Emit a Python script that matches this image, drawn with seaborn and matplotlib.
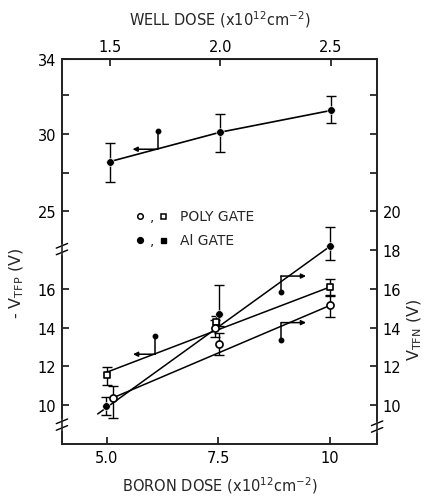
import matplotlib
matplotlib.use("Agg")
import matplotlib.pyplot as plt
import matplotlib.transforms as mtransforms
import pandas as pd
import seaborn as sns

# Al gate, -V_TFP against well dose (top axis, upper part of left axis)
well_dose = [1.5, 2.0, 2.5]
well_vtfp = [28.2, 30.1, 31.5]
well_err_lo = [1.3, 1.3, 0.8]
well_err_hi = [1.2, 1.2, 0.9]

# boron dose series (bottom axis, lower part)
al_dose = [4.98, 7.52, 10.0]
al_v = [9.95, 14.7, 18.2]
al_err_lo = [0.45, 0.6, 0.7]
al_err_hi = [0.45, 1.5, 1.0]

poly_sq_dose = [5.0, 7.45, 10.0]
poly_sq_v = [11.55, 14.3, 16.1]
poly_sq_err_lo = [0.5, 0.3, 0.4]
poly_sq_err_hi = [0.4, 0.3, 0.4]

poly_circ_dose = [5.14, 7.42, 7.52, 10.0]
poly_circ_v = [10.35, 14.0, 13.15, 15.15]
poly_circ_err_lo = [1.0, 0.5, 0.55, 0.6]
poly_circ_err_hi = [0.65, 0.4, 0.6, 0.5]

# straight fit lines through the boron series (start / end)
fit_x0 = [4.8, 5.0, 5.16]
fit_y0 = [9.55, 11.7, 10.4]
fit_x1 = [10.0, 10.0, 10.0]
fit_y1 = [18.2, 16.1, 15.15]

# axis pointer symbols: corner, arrow length (dose units), stem (volts)
ptr_dose = [6.14, 6.09, 8.9, 8.9]
ptr_v = [29.0, 12.63, 16.66, 14.26]
ptr_upper = [True, False, False, False]
ptr_arrow = [-0.56, -0.5, 0.56, 0.56]
ptr_stem = [1.2, 0.93, -0.82, -0.91]

left_lower_ticks = [10, 12, 14, 16]
left_upper_ticks = [25, 27.5, 30, 32.5]
left_upper_labels = ["25", "", "30", ""]
right_ticks = [10, 12, 14, 16, 18, 20, 22, 24, 26]
right_labels = ["10", "12", "14", "16", "18", "20", "", "", ""]
top_ticks = [1.5, 2.0, 2.5]
bottom_ticks = [5.0, 7.5, 10.0]
bottom_labels = ["5.0", "7.5", "10"]


def upper(v):
    return 20 + (v - 25) * 0.8


def well_to_boron(t):
    return (t - 1.5) * 4.95 + 5.07


def boron_to_well(b):
    return (b - 5.07) / 4.95 + 1.5


sns.set_style("ticks")
plt.rcParams["font.family"] = ["DejaVu Sans"]
plt.rcParams["mathtext.default"] = "regular"

fig = plt.figure(figsize=(4.3, 5.02), dpi=100)
ax = fig.add_axes([0.144, 0.1135, 0.733, 0.7665])
ax.set_xlim(4.0, 11.05)
ax.set_ylim(8.0, upper(34.8))

k = "black"
ekw = dict(fmt="none", ecolor=k, elinewidth=1.0, capsize=3.5, capthick=1.0)

# upper series
wx = [well_to_boron(t) for t in well_dose]
wy = [upper(v) for v in well_vtfp]
well_df = pd.DataFrame({"x": wx, "y": wy})
sns.lineplot(data=well_df, x="x", y="y", color=k, lw=1.2, ax=ax, sort=False)
ax.errorbar(wx, wy, yerr=[[e * 0.8 for e in well_err_lo], [e * 0.8 for e in well_err_hi]], **ekw)
sns.scatterplot(data=well_df, x="x", y="y", color=k, s=30, marker="o", ax=ax, zorder=5)

# fit lines
for x0, y0, x1, y1 in zip(fit_x0, fit_y0, fit_x1, fit_y1):
    sns.lineplot(x=[x0, x1], y=[y0, y1], color=k, lw=1.1, ax=ax)

ax.errorbar(al_dose, al_v, yerr=[al_err_lo, al_err_hi], **ekw)
ax.errorbar(poly_sq_dose, poly_sq_v, yerr=[poly_sq_err_lo, poly_sq_err_hi], **ekw)
ax.errorbar(poly_circ_dose, poly_circ_v, yerr=[poly_circ_err_lo, poly_circ_err_hi], **ekw)
sns.scatterplot(x=al_dose, y=al_v, color=k, s=30, marker="o", ax=ax, zorder=5)
sns.scatterplot(x=poly_sq_dose, y=poly_sq_v, facecolor="white", edgecolor=k,
                linewidth=1.2, s=22, marker="s", ax=ax, zorder=5)
sns.scatterplot(x=poly_circ_dose, y=poly_circ_v, facecolor="white", edgecolor=k,
                linewidth=1.2, s=26, marker="o", ax=ax, zorder=5)

# pointer symbols
for x, v, up, dx, dy in zip(ptr_dose, ptr_v, ptr_upper, ptr_arrow, ptr_stem):
    y = upper(v) if up else v
    y2 = upper(v + dy) if up else v + dy
    ax.annotate("", xy=(x + dx, y), xytext=(x, y),
                arrowprops=dict(arrowstyle="-|>", color=k, lw=1.1,
                                mutation_scale=7, shrinkA=0, shrinkB=0))
    ax.plot([x, x], [y, y2], color=k, lw=1.1)
    ax.plot([x], [y2], "o", color=k, ms=3.2)

# legend drawn as text with symbols
lt = ax.transAxes
ax.plot([0.248], [0.592], "o", mfc="white", mec=k, ms=4, mew=1.1, transform=lt)
ax.text(0.287, 0.592, ",", transform=lt, fontsize=10, va="center", ha="center")
ax.plot([0.321], [0.592], "s", mfc="white", mec=k, ms=3.6, mew=1.1, transform=lt)
ax.text(0.375, 0.592, "POLY GATE", transform=lt, fontsize=10, va="center")
ax.plot([0.248], [0.53], "o", color=k, ms=4.2, transform=lt)
ax.text(0.287, 0.53, ",", transform=lt, fontsize=10, va="center", ha="center")
ax.plot([0.321], [0.53], "s", color=k, ms=3.6, transform=lt)
ax.text(0.375, 0.53, "Al GATE", transform=lt, fontsize=10, va="center")

# ticks
for sp in ax.spines.values():
    sp.set_linewidth(1.2)
    sp.set_color(k)
ax.set_xticks(bottom_ticks)
ax.set_xticklabels(bottom_labels)
lpos = left_lower_ticks + [upper(v) for v in left_upper_ticks] + [upper(34.8)]
llab = [str(v) for v in left_lower_ticks] + left_upper_labels + ["34"]
ax.set_yticks(lpos)
ax.set_yticklabels(llab)
ax.tick_params(direction="in", length=5, width=1.1, labelsize=10.5, colors=k, pad=4)
ax.set_xlabel("BORON DOSE (x10$^{12}$cm$^{-2}$)", fontsize=10.5, labelpad=7)
ax.set_ylabel("- V$_{TFP}$ (V)", fontsize=11.5)
ax.yaxis.set_label_coords(-0.115, 0.42)

ax2 = ax.twinx()
ax2.set_ylim(ax.get_ylim())
ax2.set_yticks(right_ticks)
ax2.set_yticklabels(right_labels)
ax2.tick_params(direction="in", length=5, width=1.1, labelsize=10.5, colors=k, pad=4)
ax2.set_ylabel("V$_{TFN}$ (V)", fontsize=11.5)
ax2.yaxis.set_label_coords(1.09, 0.3)
for sp in ax2.spines.values():
    sp.set_linewidth(1.2)

sec = ax.secondary_xaxis("top", functions=(boron_to_well, well_to_boron))
sec.set_xticks(top_ticks)
sec.set_xticklabels(["1.5", "2.0", "2.5"])
sec.tick_params(direction="in", length=5, width=1.1, labelsize=10.5, colors=k, pad=4)
sec.set_xlabel("WELL DOSE (x10$^{12}$cm$^{-2}$)", fontsize=10.5, labelpad=10)

# axis break marks
def break_mark(xfrac, ypos):
    tr = mtransforms.blended_transform_factory(ax.transAxes, ax.transData)
    ax.plot([xfrac, xfrac], [ypos - 0.22, ypos + 0.22], color="white", lw=2.5,
            transform=tr, clip_on=False, zorder=6)
    for off in (-0.17, 0.17):
        ax.plot([xfrac - 0.018, xfrac + 0.018], [ypos + off - 0.12, ypos + off + 0.12],
                color=k, lw=1.0, transform=tr, clip_on=False, zorder=7)


break_mark(0.0, 18.05)
break_mark(0.0, 9.0)
break_mark(1.0, 8.9)

fig.savefig("out.png", dpi=100)
